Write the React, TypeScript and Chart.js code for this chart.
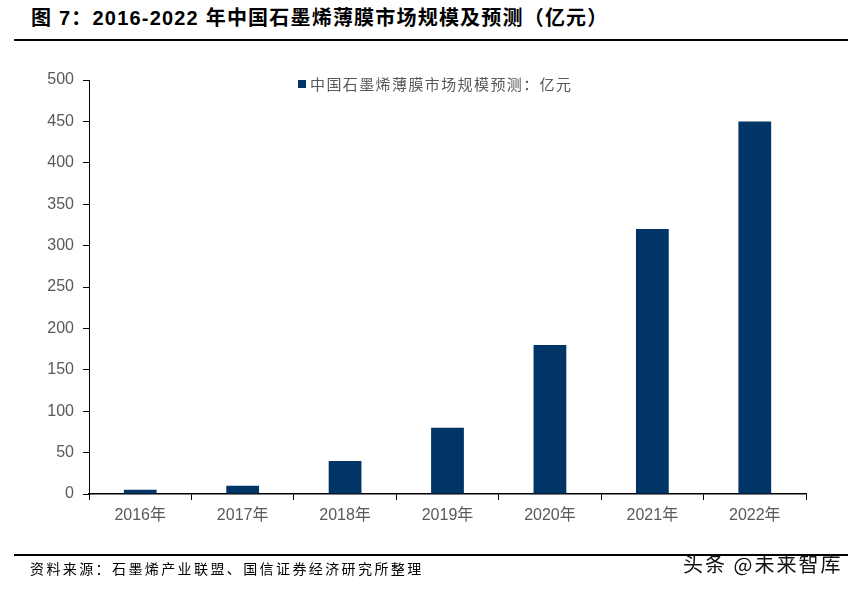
import React, { useEffect, useRef } from "react";
import { Chart, registerables } from "chart.js";

Chart.register(...registerables);

const categories = ["2016年", "2017年", "2018年", "2019年", "2020年", "2021年", "2022年"];
const values = [5, 10, 40, 80, 180, 320, 450];
const seriesName = "中国石墨烯薄膜市场规模预测：亿元";
const titleText = "图 7：2016-2022 年中国石墨烯薄膜市场规模及预测（亿元）";
const sourceText = "资料来源：石墨烯产业联盟、国信证券经济研究所整理";
const watermark = "头条 @未来智库";
const barColor = "#013567";

export default function App() {
  const ref = useRef<HTMLCanvasElement | null>(null);

  useEffect(() => {
    if (!ref.current) return;
    const chart = new Chart(ref.current, {
      type: "bar",
      data: {
        labels: categories,
        datasets: [
          {
            label: seriesName,
            data: values,
            backgroundColor: barColor,
            barPercentage: 0.32,
            categoryPercentage: 1,
          },
        ],
      },
      options: {
        animation: false,
        responsive: false,
        maintainAspectRatio: false,
        layout: { padding: { top: 80, right: 49, left: 0, bottom: 0 } },
        plugins: {
          legend: { display: false },
          tooltip: { enabled: false },
        },
        scales: {
          x: {
            afterFit: (s: any) => {
              s.height = 96;
            },
            grid: {
              drawOnChartArea: false,
              drawTicks: true,
              tickLength: 6,
              color: "#000",
            },
            border: { color: "#000", width: 1.5 },
            ticks: {
              color: "#595959",
              padding: 6,
              font: { family: "'Liberation Sans', 'Noto Sans CJK SC', sans-serif", size: 16 },
            },
          },
          y: {
            min: 0,
            max: 500,
            afterFit: (s: any) => {
              s.width = 89;
            },
            grid: {
              drawOnChartArea: false,
              drawTicks: true,
              tickLength: 6,
              color: "#000",
            },
            border: { color: "#000", width: 1 },
            ticks: {
              stepSize: 50,
              color: "#595959",
              padding: 9,
              font: { family: "'Liberation Sans', sans-serif", size: 16 },
            },
          },
        },
      },
    });
    return () => chart.destroy();
  }, []);

  return (
    <div style={{ position: "fixed", left: 0, top: 0, width: 855, height: 590, background: "#fff" }}>
      <div
        style={{
          position: "absolute",
          left: 31,
          top: 8,
          lineHeight: "20px",
          fontFamily: "'Liberation Sans', 'Noto Sans CJK SC', sans-serif",
          fontWeight: "bold",
          fontSize: 20,
          letterSpacing: "1.2px",
          color: "#000",
          whiteSpace: "nowrap",
        }}
      >
        {titleText}
      </div>
      <div style={{ position: "absolute", left: 14, top: 39, width: 834, height: 2, background: "#000" }} />
      <canvas ref={ref} width={855} height={590} style={{ position: "absolute", left: 0, top: 0 }} />
      <div
        style={{
          position: "absolute",
          left: 298,
          top: 76,
          height: 16,
          display: "flex",
          alignItems: "center",
          whiteSpace: "nowrap",
        }}
      >
        <span style={{ display: "inline-block", width: 8, height: 8, background: barColor, marginRight: 4 }} />
        <span
          style={{
            fontFamily: "'Noto Sans CJK SC', sans-serif",
            fontSize: 15,
            lineHeight: "16px",
            letterSpacing: "1.4px",
            color: "#595959",
          }}
        >
          {seriesName}
        </span>
      </div>
      <div style={{ position: "absolute", left: 14, top: 554, width: 834, height: 2, background: "#000" }} />
      <div
        style={{
          position: "absolute",
          left: 30,
          top: 560,
          lineHeight: "16px",
          fontFamily: "'Noto Sans CJK SC', serif",
          fontSize: 14,
          letterSpacing: "2.4px",
          color: "#000",
          whiteSpace: "nowrap",
        }}
      >
        {sourceText}
      </div>
      <div
        style={{
          position: "absolute",
          left: 683,
          top: 554,
          lineHeight: "20px",
          fontFamily: "'Noto Sans CJK SC', sans-serif",
          fontSize: 20,
          letterSpacing: "2px",
          color: "#111",
          whiteSpace: "nowrap",
        }}
      >
        {watermark}
      </div>
    </div>
  );
}
